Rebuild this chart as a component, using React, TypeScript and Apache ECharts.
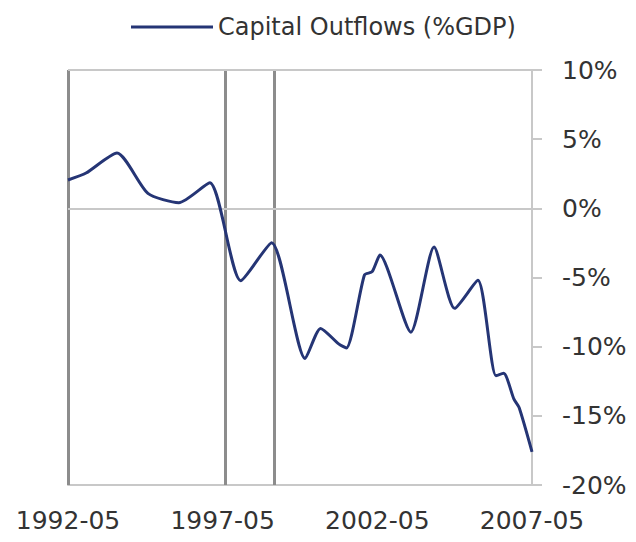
import React, { useEffect, useRef } from "react";
import * as echarts from "echarts";

// months since 1992-05
const months = [0, 7, 19, 31, 43, 55, 67, 79, 92, 98, 105, 108, 115, 118, 121, 133, 142, 150, 159, 166, 169, 173, 175, 180];
const outflows = [2.05, 2.55, 4.0, 1.08, 0.41, 1.85, -5.23, -2.48, -10.85, -8.68, -9.8, -10.1, -4.82, -4.58, -3.38, -8.95, -2.8, -7.23, -5.2, -12.1, -11.93, -13.8, -14.4, -17.6];
const xTickLabels = ["1992-05", "1997-05", "2002-05", "2007-05"];
const eventMonths = [0, 61, 80];
const seriesName = "Capital Outflows (%GDP)";

export default function App() {
  const ref = useRef<HTMLDivElement>(null);
  useEffect(() => {
    if (!ref.current) return;
    const chart = echarts.init(ref.current, undefined, { renderer: "svg" });
    const dark = "#8c8c8c";
    const light = "#c8c8c8";
    chart.setOption({
      animation: false,
      backgroundColor: "#ffffff",
      textStyle: { fontFamily: "DejaVu Sans" },
      legend: {
        left: 126,
        top: 10,
        icon: "rect",
        itemWidth: 82,
        itemHeight: 3,
        textStyle: { fontSize: 24, color: "#333333", fontFamily: "DejaVu Sans" },
        data: [seriesName],
      },
      grid: { left: 68, right: 104, top: 70, bottom: 57 },
      xAxis: {
        type: "value",
        min: 0,
        max: 180,
        interval: 60,
        axisLine: { show: true, onZero: false, lineStyle: { color: light, width: 2 } },
        axisTick: { show: false },
        splitLine: { show: false },
        axisLabel: {
          fontSize: 25,
          color: "#333333",
          margin: 23,
          formatter: (v: number) => xTickLabels[Math.round(v / 60)] ?? "",
        },
      },
      yAxis: {
        type: "value",
        position: "right",
        min: -20,
        max: 10,
        interval: 5,
        axisLine: { show: true, onZero: false, lineStyle: { color: light, width: 2 } },
        axisTick: { show: true, inside: false, length: 10, lineStyle: { color: light, width: 2 } },
        splitLine: { show: false },
        axisLabel: { fontSize: 25, color: "#333333", margin: 30, formatter: "{value}%" },
      },
      series: [
        {
          name: seriesName,
          type: "line",
          data: months.map((m, i) => [m, outflows[i]]),
          smooth: 0.22,
          showSymbol: false,
          symbol: "none",
          lineStyle: { color: "#253575", width: 3 },
          itemStyle: { color: "#253575" },
          z: 5,
          markLine: {
            silent: true,
            symbol: "none",
            label: { show: false },
            data: [
              ...eventMonths.map((m) => ({ xAxis: m, lineStyle: { color: dark, width: 3, type: "solid" } })),
              { yAxis: 0, lineStyle: { color: light, width: 2, type: "solid" } },
              { yAxis: 10, lineStyle: { color: light, width: 2, type: "solid" } },
            ],
          },
        },
      ],
    });
    return () => chart.dispose();
  }, []);
  return <div ref={ref} style={{ position: "fixed", left: 0, top: 0, width: 636, height: 542 }} />;
}
